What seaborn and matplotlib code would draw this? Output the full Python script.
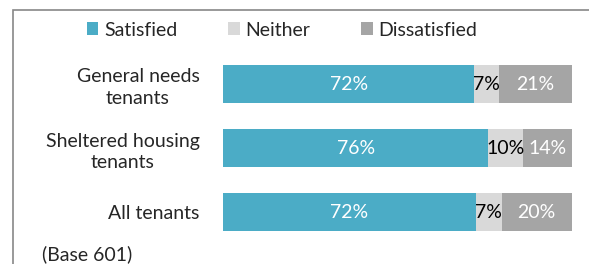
import pandas as pd
import matplotlib.pyplot as plt
import seaborn as sns
from matplotlib.patches import Patch, Rectangle

# data
groups = ["General needs\ntenants", "Sheltered housing\ntenants", "All tenants"]
satisfied = [72, 76, 72.4]
neither = [7, 10, 7.4]
dissatisfied = [21, 14, 20.2]
series = ["Satisfied", "Neither", "Dissatisfied"]
colors = ["#4BACC6", "#D9D9D9", "#A5A5A5"]

sns.set_style("white")
plt.rcParams["font.family"] = ["Lato", "DejaVu Sans"]
FS = 14

df = pd.DataFrame({"group": groups, "Satisfied": satisfied,
                   "Neither": neither, "Dissatisfied": dissatisfied})
df["c1"] = df["Satisfied"]
df["c2"] = df["c1"] + df["Neither"]
df["c3"] = df["c2"] + df["Dissatisfied"]

fig = plt.figure(figsize=(5.89, 2.64), dpi=100)
ax = fig.add_axes([223 / 589, 1 - 244 / 264, 349 / 589, 192 / 264])

# stacked bars drawn back to front from cumulative sums
for col, c in zip(["c3", "c2", "c1"], colors[::-1]):
    sns.barplot(data=df, x=col, y="group", orient="h", color=c,
                width=0.58, ax=ax, saturation=1, linewidth=0)

ax.set_xlim(0, 100)
ax.set_xlabel("")
ax.set_ylabel("")
ax.set_xticks([])
sns.despine(ax=ax, left=True, bottom=True)
ax.tick_params(axis="y", length=0, pad=17, labelsize=FS)
for lab in ax.get_yticklabels():
    lab.set_multialignment("center")
    lab.set_linespacing(1.35)

# value labels
for i, row in df.iterrows():
    starts = [0, row["c1"], row["c2"]]
    vals = [row["Satisfied"], row["Neither"], row["Dissatisfied"]]
    tcol = ["white", "black", "white"]
    for s, v, tc in zip(starts, vals, tcol):
        ax.text(s + v / 2, i, f"{round(v)}%", ha="center", va="center",
                color=tc, fontsize=FS)

handles = [Patch(facecolor=c, edgecolor="none") for c in colors]
fig.legend(handles, series, loc="center", bbox_to_anchor=(282 / 589, 1 - 30 / 264),
           ncol=3, frameon=False, fontsize=FS, handlelength=0.6,
           handleheight=0.6, handletextpad=0.3, columnspacing=2.6)

fig.text(42 / 589, 1 - 254 / 264, "(Base 601)", fontsize=FS, va="center")

# outer frame (left and top edges visible)
fig.patches.append(Rectangle((12.5 / 589, -0.1), 1.2, 1 - 9.5 / 264 + 0.1,
                             transform=fig.transFigure, fill=False,
                             edgecolor="#888888", linewidth=1.2))

fig.savefig("out.png", dpi=100)
